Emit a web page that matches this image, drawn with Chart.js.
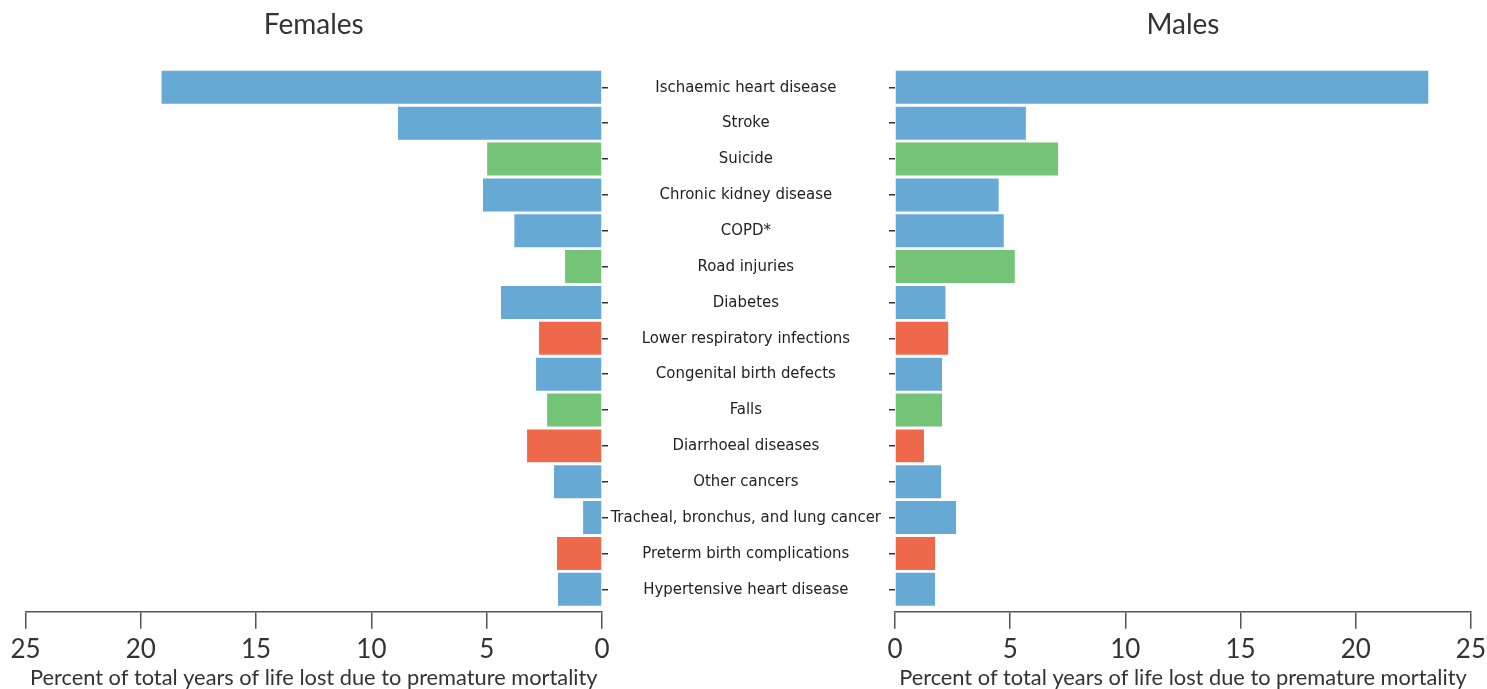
<!DOCTYPE html>
<html>
<head>
<meta charset="utf-8">
<script src="https://cdn.jsdelivr.net/npm/chart.js@4.4.1/dist/chart.umd.min.js"></script>
<style>
  html, body { margin: 0; padding: 0; background: #fff; width: 1487px; height: 689px; overflow: hidden; }
  canvas { position: absolute; top: 0; }
  #left { left: 0; }
  #right { left: 600px; }
</style>
</head>
<body>
<canvas id="left" width="612" height="689" style="width:612px;height:689px"></canvas>
<canvas id="right" width="891" height="689" style="width:891px;height:689px"></canvas>
<script>
const categories = [
  "Ischaemic heart disease", "Stroke", "Suicide", "Chronic kidney disease", "COPD*",
  "Road injuries", "Diabetes", "Lower respiratory infections", "Congenital birth defects",
  "Falls", "Diarrhoeal diseases", "Other cancers", "Tracheal, bronchus, and lung cancer",
  "Preterm birth complications", "Hypertensive heart disease"
];
const groups = ["ncd","ncd","inj","ncd","ncd","inj","ncd","cd","ncd","inj","cd","ncd","ncd","cd","ncd"];
const females = [19.1, 8.85, 4.98, 5.16, 3.8, 1.6, 4.38, 2.73, 2.86, 2.38, 3.25, 2.08, 0.82, 1.95, 1.91];
const males   = [23.15, 5.68, 7.08, 4.5, 4.72, 5.2, 2.19, 2.31, 2.04, 2.04, 1.26, 2.0, 2.65, 1.74, 1.74];
const xTicks = [0, 5, 10, 15, 20, 25];
const axisTitle = "Percent of total years of life lost due to premature mortality";
const groupColors = { ncd: "#67a9d5", inj: "#73c476", cd: "#ee694c" };

const numFont = { family: "Lato, 'Open Sans', sans-serif", size: 26, weight: 400 };
const titleFont = { family: "Lato, 'Open Sans', sans-serif", size: 28, weight: 400 };
const axisTitleFont = { family: "Lato, 'Open Sans', sans-serif", size: 21.8, weight: 400, lineHeight: 1.0 };
const catFont = { family: "'Liberation Sans Narrow', 'DejaVu Sans Condensed', 'Roboto', sans-serif", size: 16.6 };

function makeChart(id, title, values, side) {
  const isLeft = side === 'left';
  return new Chart(document.getElementById(id), {
    type: 'bar',
    data: {
      datasets: [{
        data: values.map((v, i) => ({ x: v, y: i })),
        backgroundColor: groups.map(g => groupColors[g]),
        borderWidth: 0,
        barPercentage: 0.92,
        categoryPercentage: 1.0
      }]
    },
    options: {
      indexAxis: 'y',
      responsive: false,
      animation: false,
      layout: { padding: isLeft ? { left: 25.5, right: 0, top: 0, bottom: 0 } : { left: 0, right: 12, top: 0, bottom: 0 } },
      plugins: {
        legend: { display: false },
        tooltip: { enabled: false },
        title: {
          display: true, text: title, fullSize: false,
          color: '#333', font: titleFont,
          padding: { top: 8.5, bottom: 27.3 }
        }
      },
      scales: {
        x: {
          type: 'linear', position: 'bottom', reverse: isLeft,
          min: 0, max: 25,
          afterBuildTicks: s => { s.ticks = xTicks.map(v => ({ value: v })); },
          afterFit: s => { s.height = 77.3; },
          ticks: { color: '#333', font: numFont, padding: 5, maxRotation: 0 },
          grid: { drawOnChartArea: false, drawTicks: true, tickLength: 17, color: '#555', lineWidth: 1.5 },
          border: { display: true, color: '#555', width: 1.5 },
          title: { display: true, text: axisTitle, color: '#333', font: axisTitleFont, padding: { top: 0, bottom: 0 } }
        },
        y: {
          type: 'linear', position: isLeft ? 'right' : 'left', reverse: true,
          offset: false,
          min: -0.5, max: 14.625,
          afterBuildTicks: s => { s.ticks = categories.map((c, i) => ({ value: i })); },
          afterFit: s => { s.width = isLeft ? 10 : 295; },
          ticks: {
            display: !isLeft, autoSkip: false,
            callback: v => categories[v],
            color: '#222', font: catFont, crossAlign: 'center', padding: 8
          },
          grid: { offset: false, drawOnChartArea: false, drawTicks: true, tickLength: 6, color: '#333', lineWidth: 1.5 },
          border: { display: false }
        }
      }
    }
  });
}

makeChart('left', 'Females', females, 'left');
makeChart('right', 'Males', males, 'right');
</script>
</body>
</html>
